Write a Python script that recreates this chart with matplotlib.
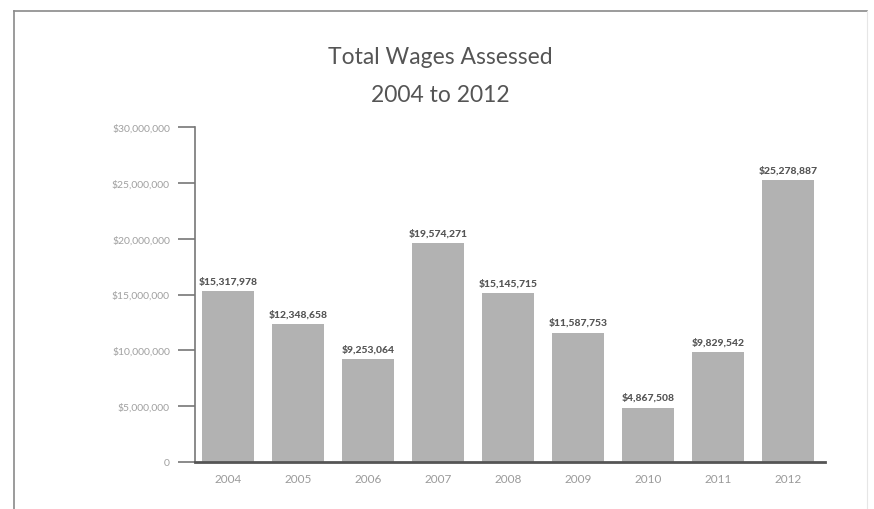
import numpy as np
import matplotlib.pyplot as plt
from matplotlib.lines import Line2D

years = ['2004', '2005', '2006', '2007', '2008', '2009', '2010', '2011', '2012']
wages = [15317978, 12348658, 9253064, 19574271, 15145715, 11587753, 4867508, 9829542, 25278887]
yticks = [0, 5000000, 10000000, 15000000, 20000000, 25000000, 30000000]
ytick_labels = ['0', '$5,000,000', '$10,000,000', '$15,000,000', '$20,000,000',
                '$25,000,000', '$30,000,000']

plt.rcParams['font.family'] = ['Lato', 'DejaVu Sans']

fig = plt.figure(figsize=(8.74, 5.10), dpi=100)
W, H = 874.0, 510.0

# outer frame around the panel
fig.add_artist(Line2D([14 / W, 867 / W], [1 - 12 / H, 1 - 12 / H], color='#8a8a8a', lw=1.2))
fig.add_artist(Line2D([14 / W, 14 / W], [1 - 12 / H, 0], color='#8a8a8a', lw=1.2))
fig.add_artist(Line2D([867 / W, 867 / W], [1 - 12 / H, 0], color='#e6e6e6', lw=0.8))

ax = fig.add_axes([195 / W, 47 / H, 630 / W, 335 / H])

x = np.arange(len(years))
bars = ax.bar(x, wages, width=0.74, color='#b2b2b2')

labels = ['$' + format(v, ',') for v in wages]
ax.bar_label(bars, labels=labels, padding=4, fontsize=7.5, fontweight='black', color='#555555')

ax.set_xlim(-0.47, 8.53)
ax.set_ylim(0, 30000000)
ax.set_xticks(x, years)
ax.set_yticks(yticks, ytick_labels)

ax.tick_params(axis='x', length=0, pad=8, labelsize=8.5, labelcolor='#9a9a9a')
ax.tick_params(axis='y', length=12, width=1.2, color='#777777', pad=6, labelsize=7.5, labelcolor='#a0a0a0')

for side in ['top', 'right']:
    ax.spines[side].set_visible(False)
ax.spines['left'].set_color('#777777')
ax.spines['left'].set_linewidth(1.2)
ax.spines['bottom'].set_color('#555555')
ax.spines['bottom'].set_linewidth(2)

fig.text(440 / W, 1 - 57 / H, 'Total Wages Assessed', ha='center', va='center',
         fontsize=16.5, color='#555555')
fig.text(440 / W, 1 - 95 / H, '2004 to 2012', ha='center', va='center',
         fontsize=16.5, color='#555555')

fig.savefig('out.png', dpi=100)
